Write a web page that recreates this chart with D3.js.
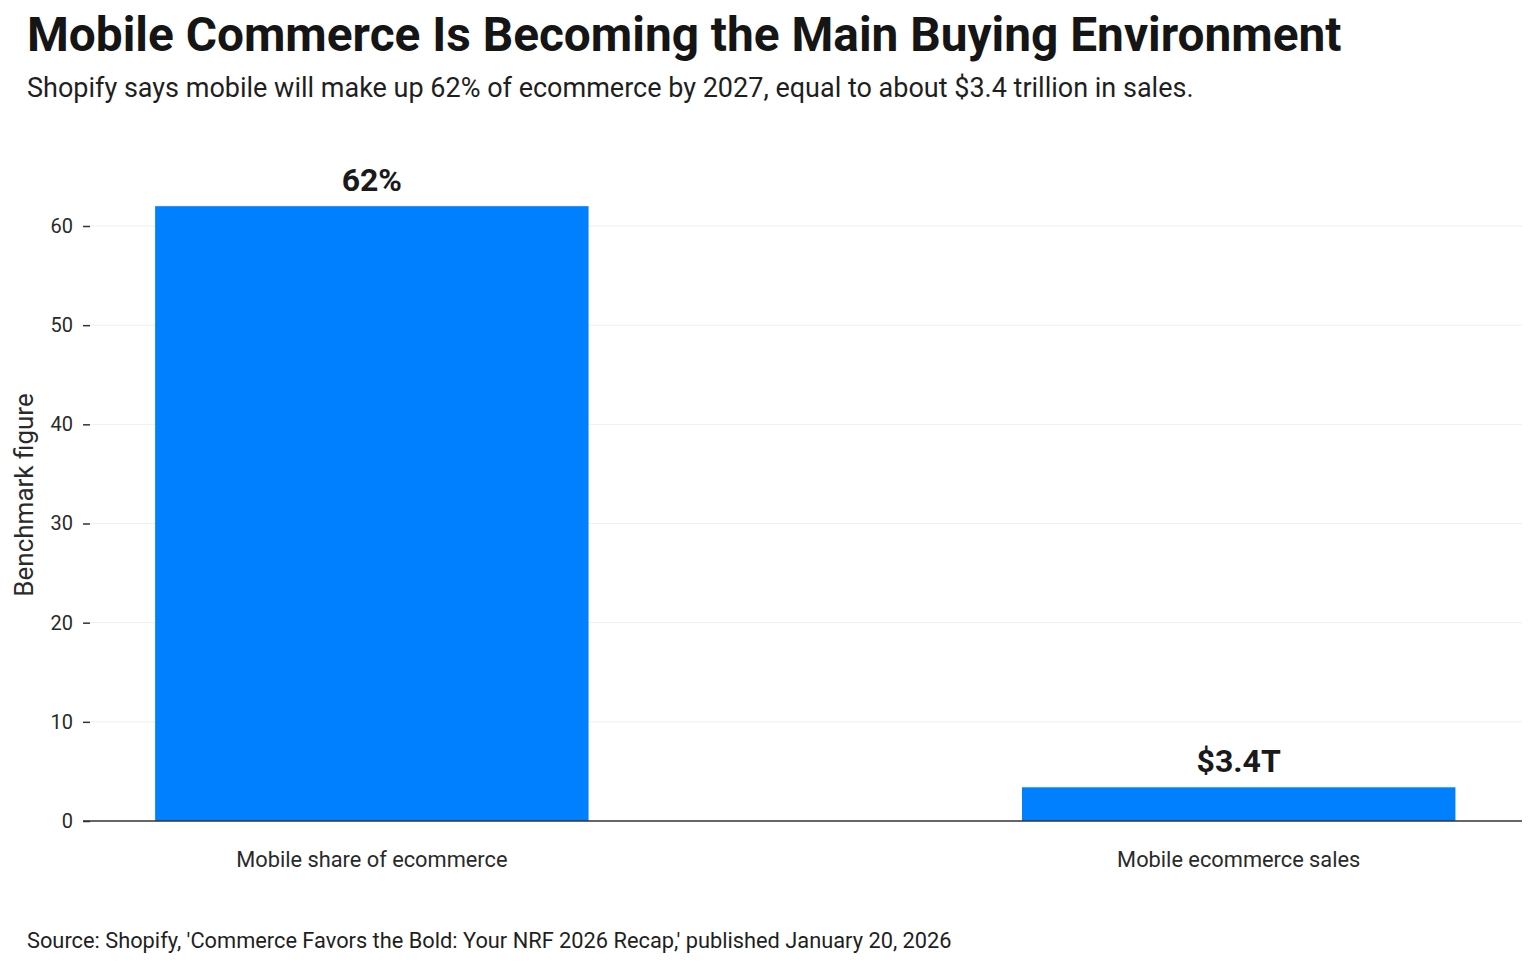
<!DOCTYPE html>
<html>
<head>
<meta charset="utf-8">
<script src="https://cdn.jsdelivr.net/npm/d3@7"></script>
<style>
  body { margin: 0; background: #fff; }
  svg { font-family: Roboto, "Noto Sans", sans-serif; }
  .tick text { fill: #2a2a2a; }
</style>
</head>
<body>
<svg width="1536" height="968"></svg>
<script>
// data
const categories = ['Mobile share of ecommerce', 'Mobile ecommerce sales'];
const values = [62, 3.4];
const valueLabels = ['62%', '$3.4T'];
const yTicks = [0, 10, 20, 30, 40, 50, 60];

const svg = d3.select('svg');

const plotLeft = 83, plotRight = 1522, plotBottom = 821;

const x = d3.scaleBand()
    .domain(categories)
    .range([plotLeft, plotRight])
    .paddingInner(0.5)
    .paddingOuter(0.08)
    .align(0.52);

// 60 sits at y=226 in the reference
const y = d3.scaleLinear()
    .domain([0, 60])
    .range([plotBottom, 226]);

// gridlines
svg.append('g')
    .selectAll('line')
    .data(yTicks.filter(d => d > 0))
    .join('line')
    .attr('x1', plotLeft + 7)
    .attr('x2', plotRight)
    .attr('y1', d => y(d))
    .attr('y2', d => y(d))
    .attr('stroke', '#efefef')
    .attr('stroke-width', 1);

// y axis
const yAxis = svg.append('g')
    .attr('transform', `translate(${plotLeft + 7}, 0)`)
    .call(d3.axisLeft(y).tickValues(yTicks).tickSize(7).tickPadding(10));
yAxis.select('.domain').remove();
yAxis.selectAll('.tick line').attr('stroke', '#333').attr('stroke-width', 1.5);
yAxis.selectAll('.tick text').attr('font-size', 20).attr('font-family', 'Roboto');

// bars
svg.append('g')
    .selectAll('rect')
    .data(values)
    .join('rect')
    .attr('x', (d, i) => x(categories[i]))
    .attr('width', x.bandwidth())
    .attr('y', d => y(d))
    .attr('height', d => y(0) - y(d))
    .attr('fill', '#0080ff');

// value labels
svg.append('g')
    .selectAll('text')
    .data(values)
    .join('text')
    .attr('x', (d, i) => x(categories[i]) + x.bandwidth() / 2)
    .attr('y', d => y(d) - 15)
    .attr('text-anchor', 'middle')
    .attr('font-size', 32)
    .attr('font-weight', 700)
    .attr('fill', '#1a1a1a')
    .text((d, i) => valueLabels[i]);

// zero line
svg.append('line')
    .attr('x1', plotLeft)
    .attr('x2', plotRight)
    .attr('y1', y(0))
    .attr('y2', y(0))
    .attr('stroke', '#333')
    .attr('stroke-width', 1.5);

// x labels
const xAxis = svg.append('g')
    .attr('transform', `translate(0, ${y(0)})`)
    .call(d3.axisBottom(x).tickSize(0).tickPadding(31));
xAxis.select('.domain').remove();
xAxis.selectAll('.tick text').attr('font-size', 21.8).attr('font-family', 'Roboto');

// axis title
svg.append('text')
    .attr('transform', 'translate(33, 495) rotate(-90)')
    .attr('text-anchor', 'middle')
    .attr('font-size', 26)
    .attr('fill', '#2a2a2a')
    .text('Benchmark figure');

// title, subtitle, source
svg.append('text')
    .attr('x', 27)
    .attr('y', 51)
    .attr('font-size', 47.8)
    .attr('font-weight', 700)
    .attr('fill', '#151515')
    .text('Mobile Commerce Is Becoming the Main Buying Environment');

svg.append('text')
    .attr('x', 27)
    .attr('y', 97)
    .attr('font-size', 27)
    .attr('fill', '#1f1f1f')
    .text('Shopify says mobile will make up 62% of ecommerce by 2027, equal to about $3.4 trillion in sales.');

svg.append('text')
    .attr('x', 27)
    .attr('y', 948)
    .attr('font-size', 21.8)
    .attr('fill', '#1f1f1f')
    .text("Source: Shopify, 'Commerce Favors the Bold: Your NRF 2026 Recap,' published January 20, 2026");
</script>
</body>
</html>
